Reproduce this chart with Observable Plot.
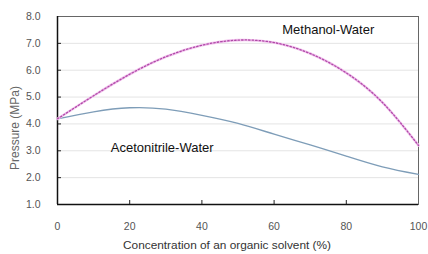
<!DOCTYPE html>
<html>
<head>
<meta charset="utf-8">
<script src="https://cdn.jsdelivr.net/npm/d3@7"></script>
<script src="https://cdn.jsdelivr.net/npm/@observablehq/plot@0.6"></script>
<style>
  html, body { margin: 0; padding: 0; background: #fff; }
  #chart { width: 428px; height: 254px; overflow: hidden; }
</style>
</head>
<body>
<div id="chart"></div>
<script>
// Concentration of organic solvent (%)
const concentration = [0, 10, 20, 30, 40, 50, 60, 70, 80, 90, 100];
// Pressure (MPa)
const methanolWater = [4.19, 5.05, 5.85, 6.5, 6.93, 7.12, 7.03, 6.62, 5.9, 4.8, 3.2];
const acetonitrileWater = [4.19, 4.45, 4.6, 4.55, 4.32, 4.02, 3.62, 3.22, 2.8, 2.4, 2.12];
const yTicks = [1, 2, 3, 4, 5, 6, 7, 8];
const xTicks = [0, 20, 40, 60, 80, 100];
const seriesLabels = [
  {name: "Methanol-Water", x: 75, y: 7.5},
  {name: "Acetonitrile-Water", x: 29, y: 3.1}
];

const methanolData = concentration.map((c, i) => ({x: c, y: methanolWater[i]}));
const acetoData = concentration.map((c, i) => ({x: c, y: acetonitrileWater[i]}));

const chart = Plot.plot({
  width: 428,
  height: 254,
  marginLeft: 57,
  marginRight: 10,
  marginTop: 16,
  marginBottom: 50,
  style: {fontFamily: "'Liberation Sans', Arial, sans-serif", background: "#fff"},
  x: {domain: [0, 100]},
  y: {domain: [1, 8]},
  marks: [
    Plot.ruleY(yTicks.filter(d => d > 1 && d < 8), {stroke: "#e4e4e4", strokeWidth: 1}),
    Plot.frame({stroke: "#666", strokeWidth: 1}),
    Plot.axisY(yTicks, {tickSize: 0, tickPadding: 17, tickFormat: d3.format(".1f"), fill: "#555", fontSize: 10.5, label: null}),
    Plot.axisY(yTicks.filter(d => d > 1 && d < 8), {tickSize: -4, text: null, stroke: "#222", label: null}),
    Plot.axisX(xTicks, {tickSize: 0, tickPadding: 18, fill: "#555", fontSize: 10.5, label: null}),
    Plot.axisX(xTicks.filter(d => d > 0 && d < 100), {tickSize: -4, text: null, stroke: "#222", label: null}),
    Plot.ruleX([0], {stroke: "#111", strokeWidth: 1.5}),
    Plot.ruleY([1], {stroke: "#111", strokeWidth: 1.5}),
    Plot.line(acetoData, {x: "x", y: "y", curve: "natural", stroke: "#7e9db8", strokeWidth: 1.4}),
    Plot.line(methanolData, {x: "x", y: "y", curve: "natural", stroke: "#f2c4ee", strokeWidth: 2.6}),
    Plot.line(methanolData, {x: "x", y: "y", curve: "natural", stroke: "#b04aa8", strokeWidth: 1.3, strokeDasharray: "1.5,2"}),
    Plot.text(seriesLabels, {x: "x", y: "y", text: "name", fontSize: 13, fill: "#111", textAnchor: "middle"})
  ]
});

const svg = d3.select(chart);
// Axis titles
svg.append("text")
  .attr("transform", "translate(16,128) rotate(-90)")
  .attr("text-anchor", "middle")
  .attr("dominant-baseline", "middle")
  .attr("fill", "#666")
  .attr("font-size", 12)
  .attr("font-family", "'Liberation Sans', Arial, sans-serif")
  .text("Pressure (MPa)");
svg.append("text")
  .attr("x", 227)
  .attr("y", 246)
  .attr("text-anchor", "middle")
  .attr("dominant-baseline", "middle")
  .attr("fill", "#333")
  .attr("font-size", 10.5)
  .attr("textLength", 208)
  .attr("lengthAdjust", "spacingAndGlyphs")
  .attr("font-family", "'Liberation Sans', Arial, sans-serif")
  .text("Concentration of an organic solvent (%)");

document.getElementById("chart").appendChild(chart);
</script>
</body>
</html>
